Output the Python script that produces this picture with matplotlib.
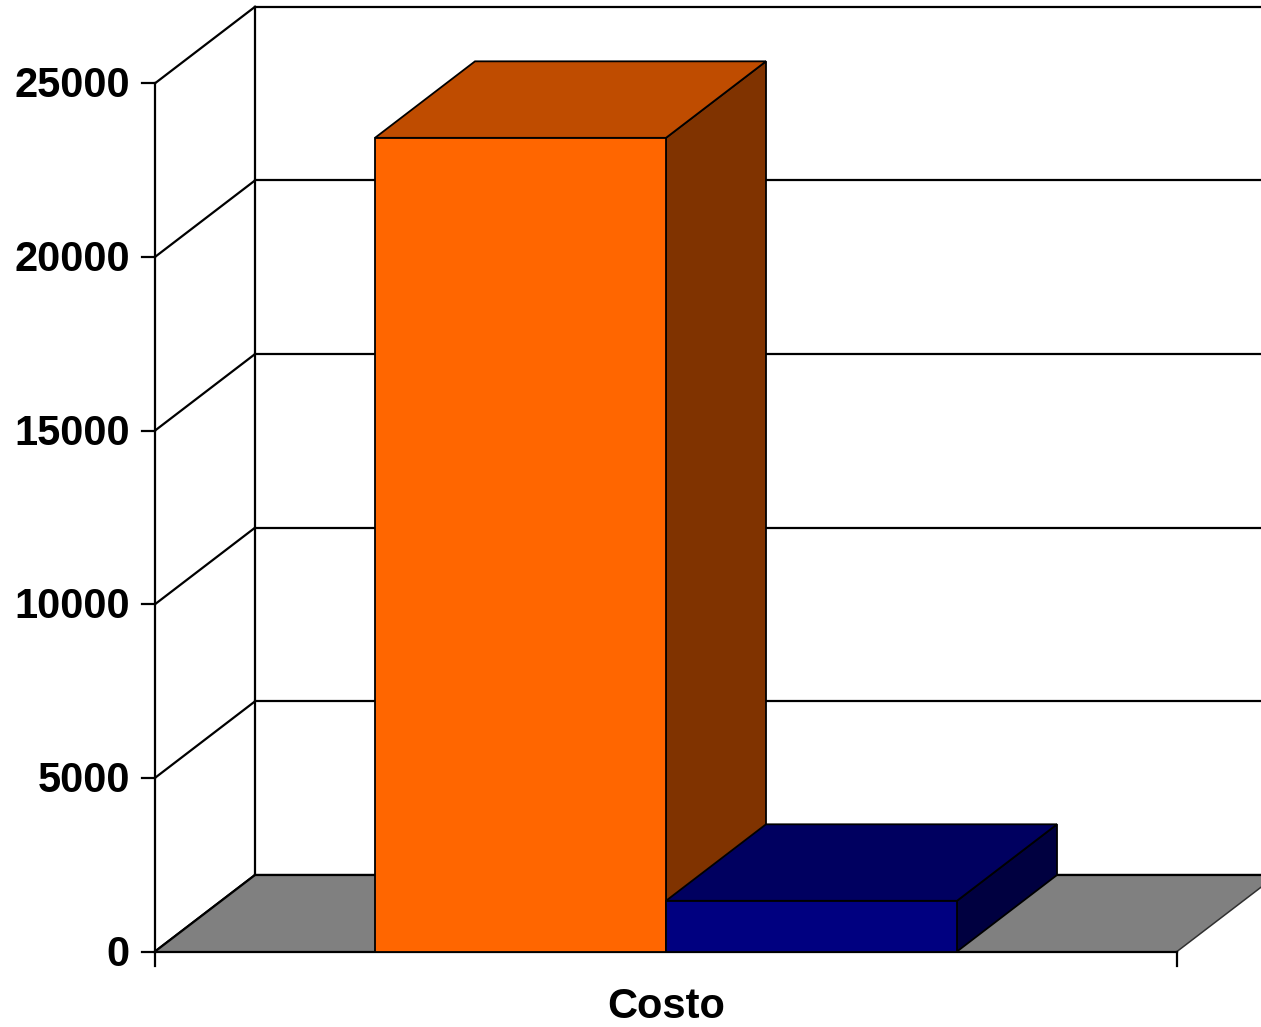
import matplotlib
matplotlib.use("Agg")
import matplotlib.pyplot as plt
from matplotlib.patches import Polygon

plt.rcParams['font.family'] = ['Liberation Sans', 'DejaVu Sans']

# Data
category = "Costo"
series_values = [23430, 1460]
front_colors = ["#FF6600", "#000080"]
top_colors = ["#BF4C00", "#000060"]
side_colors = ["#803300", "#000040"]
tick_values = [0, 5000, 10000, 15000, 20000, 25000]
tick_labels = ["0", "5000", "10000", "15000", "20000", "25000"]

W, H, DPI = 1261, 1027, 100
fig = plt.figure(figsize=(W / DPI, H / DPI), dpi=DPI)
ax = fig.add_axes([0, 0, 1, 1])
ax.set_axis_off()

# Front plot plane (pixels): x 155..1177 for the category, y 0 at 75.5 px from bottom, 25000 at 943.7
x0_px, x1_px = 155.0, 1177.0
y0_px, ytop_px = 1027 - 951.5, 1027 - 83.3
px_per_x = (x1_px - x0_px) / 1.0
px_per_y = (ytop_px - y0_px) / tick_values[-1]
ax.set_xlim(-x0_px / px_per_x, (W - x0_px) / px_per_x)
ax.set_ylim(-y0_px / px_per_y, (H - y0_px) / px_per_y)

# Depth offset of the back plane
DX = 100.0 / px_per_x
DY = 76.5 / px_per_y
xr = ax.get_xlim()[1] + 0.05

lw = 1.6
# Back wall gridlines and side wall gridlines
for v in tick_values:
    ax.plot([DX, xr], [v + DY, v + DY], color="black", lw=lw, zorder=1, clip_on=True)
    ax.plot([0, DX], [v, v + DY], color="black", lw=lw, zorder=1)
ax.plot([DX, DX], [DY, tick_values[-1] + DY], color="black", lw=lw, zorder=1)

# Floor
floor = Polygon([(0, 0), (1, 0), (1 + DX, DY), (DX, DY)], closed=True,
                facecolor="#808080", edgecolor="none", zorder=2)
ax.add_patch(floor)
ax.plot([1, 1 + DX], [0, DY], color="#303030", lw=1.1, zorder=2)
ax.plot([0, DX], [0, DY], color="black", lw=lw, zorder=3)
ax.plot([DX, xr], [DY, DY], color="black", lw=lw, zorder=3)

# Axes lines and ticks
ax.plot([0, 0], [0, tick_values[-1]], color="black", lw=lw, zorder=3)
ax.plot([0, 1], [0, 0], color="black", lw=lw, zorder=3)
tick_len_x = 13.0 / px_per_x
tick_len_y = 14.0 / px_per_y
for v, lab in zip(tick_values, tick_labels):
    ax.plot([-tick_len_x, 0], [v, v], color="black", lw=lw, zorder=3)
    ax.text(-25.0 / px_per_x, v - 3.0 / px_per_y, lab, ha="right", va="center",
            fontsize=30, fontweight="bold", color="black")
for xv in (0, 1):
    ax.plot([xv, xv], [0, -tick_len_y], color="black", lw=lw, zorder=3)
ax.text(0.5, -56.0 / px_per_y, category, ha="center", va="center",
        fontsize=30, fontweight="bold", color="black")

# 3D bars
bar_w = 291.0 / px_per_x
gap = 0.5 * (1.0 - 2 * bar_w)
z = 5
for i, val in enumerate(series_values):
    left = gap + i * bar_w
    right = left + bar_w
    front = Polygon([(left, 0), (right, 0), (right, val), (left, val)], closed=True,
                    facecolor=front_colors[i], edgecolor="black", lw=1.3, zorder=z)
    top = Polygon([(left, val), (right, val), (right + DX, val + DY), (left + DX, val + DY)],
                  closed=True, facecolor=top_colors[i], edgecolor="black", lw=1.3,
                  joinstyle="miter", zorder=z)
    side = Polygon([(right, 0), (right + DX, DY), (right + DX, val + DY), (right, val)],
                   closed=True, facecolor=side_colors[i], edgecolor="black", lw=1.3,
                   zorder=z)
    ax.add_patch(side)
    ax.add_patch(top)
    ax.add_patch(front)
    z += 1

fig.savefig("out.png", dpi=DPI)
